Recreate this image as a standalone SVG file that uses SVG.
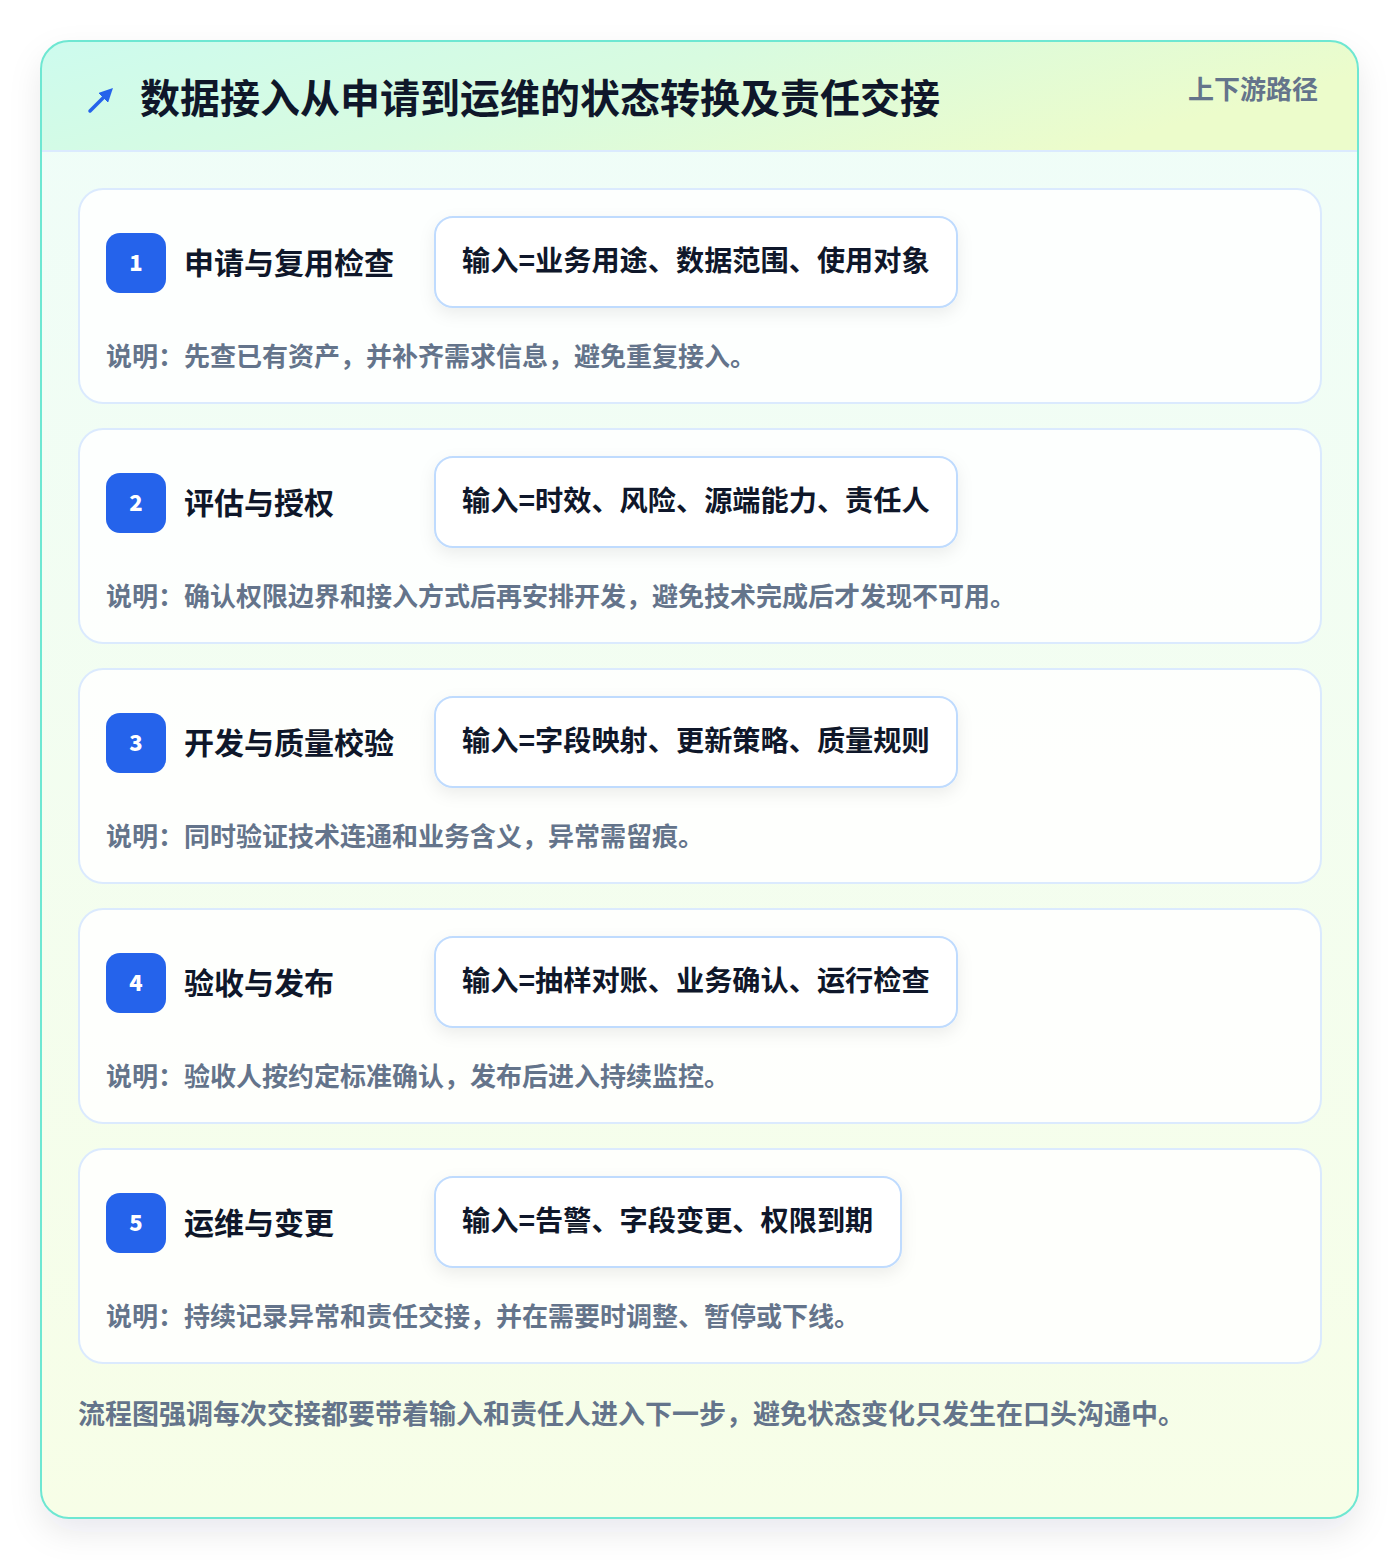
<svg xmlns="http://www.w3.org/2000/svg" width="1400" height="1560" viewBox="0 0 1400 1560">
<defs>
<linearGradient id="bg" x1="0" y1="0" x2="0" y2="1">
<stop offset="0" stop-color="#effdf9"/><stop offset="1" stop-color="#f7fee7"/>
</linearGradient>
<linearGradient id="hd" x1="0" y1="0" x2="1" y2="0.3">
<stop offset="0" stop-color="#cdfbee"/><stop offset="0.5" stop-color="#d8fbe0"/><stop offset="1" stop-color="#ecfccb"/>
</linearGradient>
<filter id="sh" x="-10%" y="-10%" width="120%" height="120%">
<feDropShadow dx="0" dy="14" stdDeviation="16" flood-color="#0f172a" flood-opacity="0.09"/>
</filter>
<filter id="sh2" x="-10%" y="-30%" width="120%" height="160%">
<feDropShadow dx="0" dy="6" stdDeviation="8" flood-color="#0f172a" flood-opacity="0.07"/>
</filter>
<clipPath id="cc"><rect x="41" y="41" width="1317" height="1477" rx="28"/></clipPath>
<marker id="ah" viewBox="0 0 10 10" refX="5" refY="5" markerWidth="4" markerHeight="4" orient="auto"><path d="M0,0 L10,5 L0,10 Z" fill="#2563eb"/></marker>
</defs>
<style>
text{font-family:"Noto Sans CJK SC","Noto Sans",sans-serif;font-weight:700}
.card{fill:#ffffff;fill-opacity:0.85;stroke:#dbeafe;stroke-width:2}
.badge{fill:#2563eb}
.num{fill:#ffffff;font-size:22px;font-weight:800;text-anchor:middle}
.st{fill:#0f172a;font-size:30px}
.inb{fill:#ffffff;stroke:#bfdbfe;stroke-width:2}
.int{fill:#0f172a;font-size:28.2px}
.ds{fill:#64748b;font-size:26px}
</style>
<rect width="1400" height="1560" fill="#ffffff"/>
<g id="frame">
<rect x="41" y="41" width="1317" height="1477" rx="28" fill="url(#bg)" filter="url(#sh)"/>
<g clip-path="url(#cc)">
<rect x="41" y="41" width="1317" height="110" fill="url(#hd)"/>
<line x1="41" y1="151" x2="1358" y2="151" stroke="#dbeafe" stroke-width="2"/>
</g>
<rect x="41" y="41" width="1317" height="1477" rx="28" fill="none" stroke="#6ee7d2" stroke-width="2"/>
</g>
<g id="header">
<line x1="90" y1="111" x2="108" y2="93" stroke="#2563eb" stroke-width="3.5" stroke-linecap="round" marker-end="url(#ah)"/>
<text x="140" y="113" font-size="40" fill="#0f172a" font-weight="800">数据接入从申请到运维的状态转换及责任交接</text>
<text x="1318" y="99" font-size="26" fill="#64748b" text-anchor="end">上下游路径</text>
</g>
<g id="step1">
<rect class="card" x="79" y="189" width="1242" height="214" rx="24"/>
<rect class="badge" x="106" y="233" width="60" height="60" rx="14"/>
<text class="num" x="136" y="271">1</text>
<text class="st" x="184" y="274">申请与复用检查</text>
<rect class="inb" x="435" y="217" width="522" height="90" rx="18" filter="url(#sh2)"/>
<text class="int" x="462" y="271">输入=业务用途、数据范围、使用对象</text>
<text class="ds" x="106" y="366">说明：先查已有资产，并补齐需求信息，避免重复接入。</text>
</g>
<g id="step2">
<rect class="card" x="79" y="429" width="1242" height="214" rx="24"/>
<rect class="badge" x="106" y="473" width="60" height="60" rx="14"/>
<text class="num" x="136" y="511">2</text>
<text class="st" x="184" y="514">评估与授权</text>
<rect class="inb" x="435" y="457" width="522" height="90" rx="18" filter="url(#sh2)"/>
<text class="int" x="462" y="511">输入=时效、风险、源端能力、责任人</text>
<text class="ds" x="106" y="606">说明：确认权限边界和接入方式后再安排开发，避免技术完成后才发现不可用。</text>
</g>
<g id="step3">
<rect class="card" x="79" y="669" width="1242" height="214" rx="24"/>
<rect class="badge" x="106" y="713" width="60" height="60" rx="14"/>
<text class="num" x="136" y="751">3</text>
<text class="st" x="184" y="754">开发与质量校验</text>
<rect class="inb" x="435" y="697" width="522" height="90" rx="18" filter="url(#sh2)"/>
<text class="int" x="462" y="751">输入=字段映射、更新策略、质量规则</text>
<text class="ds" x="106" y="846">说明：同时验证技术连通和业务含义，异常需留痕。</text>
</g>
<g id="step4">
<rect class="card" x="79" y="909" width="1242" height="214" rx="24"/>
<rect class="badge" x="106" y="953" width="60" height="60" rx="14"/>
<text class="num" x="136" y="991">4</text>
<text class="st" x="184" y="994">验收与发布</text>
<rect class="inb" x="435" y="937" width="522" height="90" rx="18" filter="url(#sh2)"/>
<text class="int" x="462" y="991">输入=抽样对账、业务确认、运行检查</text>
<text class="ds" x="106" y="1086">说明：验收人按约定标准确认，发布后进入持续监控。</text>
</g>
<g id="step5">
<rect class="card" x="79" y="1149" width="1242" height="214" rx="24"/>
<rect class="badge" x="106" y="1193" width="60" height="60" rx="14"/>
<text class="num" x="136" y="1231">5</text>
<text class="st" x="184" y="1234">运维与变更</text>
<rect class="inb" x="435" y="1177" width="466" height="90" rx="18" filter="url(#sh2)"/>
<text class="int" x="462" y="1231">输入=告警、字段变更、权限到期</text>
<text class="ds" x="106" y="1326">说明：持续记录异常和责任交接，并在需要时调整、暂停或下线。</text>
</g>
<g id="connectors"></g>
<g id="footer">
<text x="78" y="1424" font-size="27" fill="#64748b">流程图强调每次交接都要带着输入和责任人进入下一步，避免状态变化只发生在口头沟通中。</text>
</g>
</svg>
